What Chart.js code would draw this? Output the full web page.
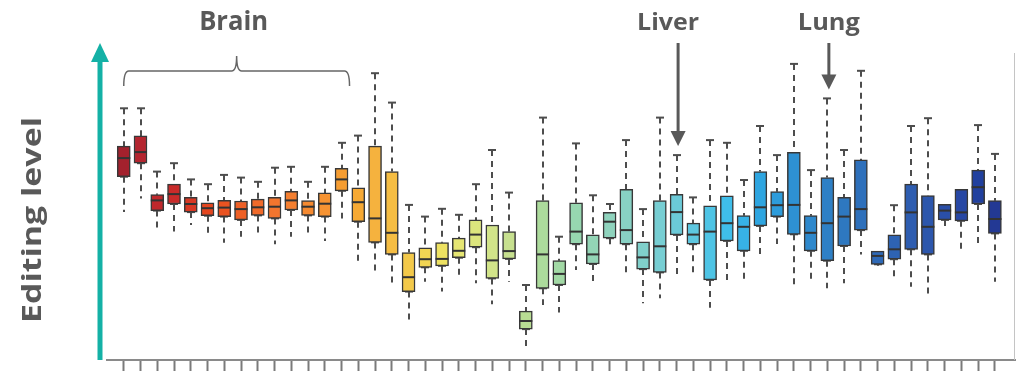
<!DOCTYPE html>
<html>
<head>
<meta charset="utf-8">
<script src="https://cdn.jsdelivr.net/npm/chart.js@4/dist/chart.umd.min.js"></script>
<style>
  body { margin: 0; background: #fff; }
  #wrap { width: 1016px; height: 372px; position: relative; }
</style>
</head>
<body>
<div id="wrap"><canvas id="chart"></canvas></div>
<script>
// Sample positions (one box per sample, left to right)
const samples = [
  'S1', 'S2', 'S3', 'S4', 'S5', 'S6', 'S7', 'S8', 'S9', 'S10',
  'S11', 'S12', 'S13', 'S14', 'S15', 'S16', 'S17', 'S18', 'S19', 'S20',
  'S21', 'S22', 'S23', 'S24', 'S25', 'S26', 'S27', 'S28', 'S29', 'S30',
  'S31', 'S32', 'S33', 'S34', 'S35', 'S36', 'S37', 'S38', 'S39', 'S40',
  'S41', 'S42', 'S43', 'S44', 'S45', 'S46', 'S47', 'S48', 'S49', 'S50',
  'S51', 'S52', 'S53'
];

// Box plot stats (editing level, arbitrary units)
const whiskerLow = [
  49.3, 53.8, 43.3, 42.8, 45.0, 42.2, 39.1, 41.1, 41.1, 38.6,
  41.1, 41.1, 39.7, 47.2, 32.6, 28.9, 25.6, 11.9, 26.1, 22.8,
  28.3, 25.6, 18.6, 26.1, 3.9, 18.3, 15.8, 30.0, 25.0, 37.4,
  28.3, 18.9, 20.6, 27.8, 28.1, 17.4, 26.7, 26.7, 34.2, 38.7,
  24.4, 25.6, 23.9, 25.6, 35.2, 31.4, 27.6, 24.4, 20.6, 44.4,
  35.9, 38.6, 26.1
];
const q1 = [
  61.1, 65.6, 49.8, 52.0, 49.3, 48.1, 47.8, 46.7, 48.2, 47.2,
  50.0, 48.2, 47.8, 56.4, 46.1, 39.2, 35.2, 22.8, 30.9, 31.4,
  34.1, 37.6, 27.2, 33.7, 10.3, 23.9, 25.0, 38.6, 32.0, 40.6,
  38.6, 30.3, 29.2, 41.7, 38.6, 26.7, 39.7, 36.4, 44.7, 47.8,
  41.9, 36.4, 33.1, 38.0, 43.3, 31.9, 33.6, 36.9, 35.2, 46.7,
  46.4, 52.0, 42.2
];
const median = [
  67.3, 69.3, 53.2, 55.3, 52.0, 50.6, 50.8, 50.3, 50.9, 51.1,
  53.2, 51.1, 52.1, 60.2, 52.6, 47.2, 42.4, 27.6, 33.6, 33.7,
  36.4, 41.8, 33.2, 36.3, 13.0, 35.2, 28.7, 42.8, 35.2, 46.1,
  43.3, 34.2, 37.9, 49.3, 41.8, 42.8, 45.6, 44.4, 50.9, 51.6,
  51.7, 42.4, 45.6, 47.8, 50.3, 34.7, 36.9, 49.2, 44.4, 49.8,
  49.2, 57.6, 47.0
];
const q3 = [
  71.3, 74.7, 55.1, 58.6, 54.2, 52.4, 53.2, 53.0, 53.6, 54.2,
  56.2, 53.1, 55.7, 63.9, 57.4, 71.3, 62.8, 35.8, 37.4, 39.1,
  40.6, 46.7, 45.0, 42.8, 16.3, 53.1, 33.1, 52.4, 41.7, 49.2,
  56.9, 39.4, 53.1, 55.2, 45.6, 51.4, 54.7, 48.1, 62.8, 56.1,
  69.2, 48.1, 60.8, 54.2, 66.7, 36.3, 41.7, 58.6, 54.8, 51.9,
  56.9, 63.3, 53.1
];
const whiskerHigh = [
  83.9, 83.9, 62.8, 65.6, 60.2, 58.6, 61.7, 60.8, 59.4, 64.1,
  64.4, 59.4, 64.4, 72.4, 74.8, 95.6, 85.8, 51.7, 47.8, 50.4,
  48.4, 58.6, 70.0, 55.8, 25.0, 80.8, 41.1, 72.2, 54.9, 52.0,
  73.3, 50.3, 80.8, 68.3, 54.2, 73.3, 72.4, 60.0, 78.0, 68.3,
  98.7, 63.3, 87.2, 70.0, 96.4, 36.3, 51.6, 78.0, 80.6, 51.9,
  56.9, 78.3, 68.7
];

// Highlighted groups
const brainRange = [1, 14];
const markers = [
  { label: 'Liver', sample: 34 },
  { label: 'Lung', sample: 43 }
];

// Fill colours, red -> yellow -> green -> blue
const boxColors = [
  '#a3212d', '#b4252f', '#c0282c', '#c92b2a', '#d83924', '#e4461f', '#ea5321', '#ee6026', '#f06a2a', '#f2752e',
  '#f47f30', '#f58a31', '#f69332', '#f69d31', '#f6a934', '#f5b23e', '#f5bd43', '#f3c94a', '#f1d553', '#eee262',
  '#e6e673', '#dce57d', '#d2e489', '#c7e08f', '#b8dc93', '#acdb9c', '#a2d9a5', '#97d7b0', '#93d5b6', '#8fd3bd',
  '#88d1c4', '#80d0cb', '#77ced3', '#6bcad8', '#5dc7e0', '#4ec4e5', '#3fbeea', '#37b2e6', '#2ea5e0', '#2d9cdb',
  '#2e91d3', '#2e88cc', '#2e80c6', '#2e78c0', '#2e70bb', '#2e69b7', '#2e63b3', '#2e5db0', '#2c56ac', '#2a4fa8',
  '#2747a4', '#21409e', '#233994'
];

const textGray = '#595959';
const labelShift = { Liver: -10, Lung: 0 };

// draw bold text squeezed/stretched to a given width
function fitText(ctx, text, cx, y, size, width) {
  ctx.font = 'bold ' + size + 'px "Open Sans"';
  const w = ctx.measureText(text).width;
  ctx.save();
  ctx.translate(cx, y);
  ctx.scale(width / w, 1);
  ctx.textAlign = 'center';
  ctx.fillText(text, 0, 0);
  ctx.restore();
}

const boxPlugin = {
  id: 'boxParts',
  beforeDatasetsDraw(chart) {
    const { ctx } = chart;
    const x = chart.scales.x, y = chart.scales.y;
    ctx.save();
    ctx.strokeStyle = '#4d4d4d';
    ctx.lineWidth = 2;
    samples.forEach((s, i) => {
      const px = Math.round(x.getPixelForValue(i + 1));
      const segs = [[whiskerHigh[i], q3[i]], [q1[i], whiskerLow[i]]];
      segs.forEach(([end, edge]) => {
        if (Math.abs(end - edge) < 0.5) return;
        ctx.setLineDash([6, 5]);
        ctx.beginPath();
        ctx.moveTo(px, y.getPixelForValue(end));
        ctx.lineTo(px, y.getPixelForValue(edge));
        ctx.stroke();
        ctx.setLineDash([]);
        ctx.beginPath();
        ctx.moveTo(px - 4, y.getPixelForValue(end));
        ctx.lineTo(px + 4, y.getPixelForValue(end));
        ctx.stroke();
      });
    });
    ctx.restore();
  },
  afterDatasetsDraw(chart) {
    const { ctx, chartArea } = chart;
    const x = chart.scales.x, y = chart.scales.y;
    ctx.save();
    // medians
    ctx.strokeStyle = '#333';
    ctx.lineWidth = 2;
    samples.forEach((s, i) => {
      const px = x.getPixelForValue(i + 1);
      const py = y.getPixelForValue(median[i]);
      ctx.beginPath();
      ctx.moveTo(px - 6.5, py);
      ctx.lineTo(px + 6.5, py);
      ctx.stroke();
    });

    // right frame line
    ctx.strokeStyle = '#c4c4c4';
    ctx.lineWidth = 1;
    ctx.beginPath();
    ctx.moveTo(chartArea.right - 0.5, 53);
    ctx.lineTo(chartArea.right - 0.5, chartArea.bottom);
    ctx.stroke();

    // y axis arrow
    const ax = chartArea.left - 7;
    ctx.strokeStyle = '#14b1a6';
    ctx.fillStyle = '#14b1a6';
    ctx.lineWidth = 5;
    ctx.beginPath();
    ctx.moveTo(ax, chartArea.bottom);
    ctx.lineTo(ax, 58);
    ctx.stroke();
    ctx.beginPath();
    ctx.moveTo(ax, 43);
    ctx.lineTo(ax - 9, 62);
    ctx.lineTo(ax + 9, 62);
    ctx.closePath();
    ctx.fill();

    // y axis title
    ctx.fillStyle = textGray;
    ctx.textBaseline = 'middle';
    ctx.save();
    ctx.translate(33, 220);
    ctx.rotate(-Math.PI / 2);
    fitText(ctx, 'Editing level', 0, 0, 27, 206);
    ctx.restore();
    ctx.textBaseline = 'alphabetic';

    // brain brace
    const bx0 = x.getPixelForValue(brainRange[0]);
    const bx1 = x.getPixelForValue(brainRange[1]) + 8;
    const bmid = (bx0 + bx1) / 2;
    ctx.strokeStyle = '#666';
    ctx.lineWidth = 1.5;
    ctx.beginPath();
    ctx.moveTo(bx0, 86);
    ctx.quadraticCurveTo(bx0, 71, bx0 + 5, 71);
    ctx.lineTo(bmid - 5, 71);
    ctx.quadraticCurveTo(bmid, 71, bmid, 56);
    ctx.quadraticCurveTo(bmid, 71, bmid + 5, 71);
    ctx.lineTo(bx1 - 5, 71);
    ctx.quadraticCurveTo(bx1, 71, bx1, 86);
    ctx.stroke();

    fitText(ctx, 'Brain', bmid - 3, 30, 27, 69);

    // tissue markers
    markers.forEach(m => {
      const px = x.getPixelForValue(m.sample) + 1.5;
      const tip = y.getPixelForValue(whiskerHigh[m.sample - 1]) - 9;
      ctx.fillStyle = textGray;
      fitText(ctx, m.label, px + labelShift[m.label], 30, 24, 62);
      ctx.strokeStyle = '#595959';
      ctx.lineWidth = 3;
      ctx.beginPath();
      ctx.moveTo(px, 43);
      ctx.lineTo(px, tip - 12);
      ctx.stroke();
      ctx.beginPath();
      ctx.moveTo(px, tip);
      ctx.lineTo(px - 7.5, tip - 15);
      ctx.lineTo(px + 7.5, tip - 15);
      ctx.closePath();
      ctx.fill();
    });
    ctx.restore();
  }
};

new Chart(document.getElementById('chart'), {
  type: 'bar',
  data: {
    datasets: [{
      data: samples.map((s, i) => ({ x: i + 1, y: [q1[i], q3[i]] })),
      backgroundColor: boxColors,
      borderColor: '#383838',
      borderWidth: 1.5,
      borderSkipped: false,
      barThickness: 13
    }]
  },
  options: {
    responsive: true,
    maintainAspectRatio: false,
    animation: false,
    layout: { padding: { left: 107, right: 1, top: 60, bottom: 1 } },
    plugins: { legend: { display: false }, tooltip: { enabled: false } },
    scales: {
      x: {
        type: 'linear',
        offset: false,
        min: 0,
        max: 54.2,
        afterBuildTicks: (scale) => {
          scale.ticks = samples.map((s, i) => ({ value: i + 1 }));
        },
        ticks: { display: false },
        grid: {
          offset: false,
          drawOnChartArea: false,
          drawTicks: true,
          tickLength: 11,
          tickWidth: 2,
          tickColor: '#7a7a7a'
        },
        border: { display: true, color: '#8a8a8a', width: 2 }
      },
      y: {
        display: false,
        min: 0,
        max: 100
      }
    }
  },
  plugins: [boxPlugin]
});
</script>
</body>
</html>
